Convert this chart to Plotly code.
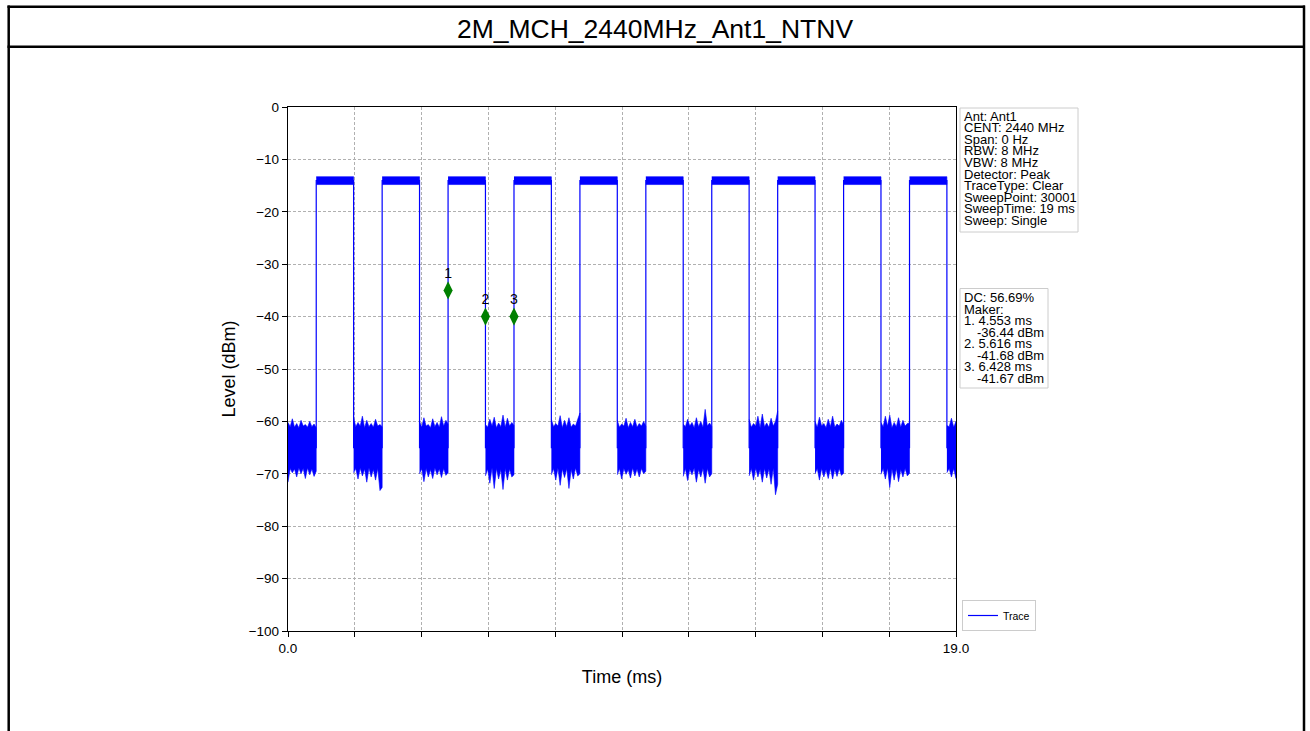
import numpy as np
import plotly.graph_objects as go

# ---------------- data ----------------
title_text = "2M_MCH_2440MHz_Ant1_NTNV"
rise_ms = [0.803, 2.678, 4.553, 6.428, 8.303, 10.178, 12.053, 13.928, 15.803, 17.678]
fall_ms = [1.866, 3.741, 5.616, 7.491, 9.366, 11.241, 13.116, 14.991, 16.866, 18.741]
high_top = -13.3
high_bottom = -14.8
low_level = -65.0
sweep_ms = 19.0

# noise envelope (upper / lower) of each low-level stretch, read left to right
noise_upper = [
    [-60.2, -61.0, -59.5, -61.1, -60.4, -61.2, -59.8, -60.9, -60.6, -61.1, -60.0, -61.0, -60.5, -61.2],
    [-59.3, -61.0, -60.2, -60.9, -59.0, -61.2, -59.8, -61.0, -60.4, -61.1, -59.6, -60.9, -60.6, -61.0],
    [-60.0, -61.1, -59.3, -60.9, -60.6, -61.2, -59.5, -61.0, -60.2, -61.1, -59.1, -60.9, -59.8, -60.5],
    [-60.6, -61.1, -59.6, -60.9, -59.2, -61.2, -60.3, -61.0, -58.8, -61.1, -59.4, -60.9, -60.2, -60.8],
    [-59.6, -61.0, -60.4, -60.9, -58.9, -61.2, -59.8, -61.0, -59.3, -61.1, -60.5, -60.9, -59.6, -58.4],
    [-59.8, -61.1, -60.5, -60.9, -59.4, -61.2, -60.2, -61.0, -59.6, -61.1, -60.4, -60.9, -60.0, -60.9],
    [-60.5, -61.0, -59.6, -60.9, -60.2, -61.2, -59.3, -61.0, -60.0, -61.1, -57.7, -60.9, -60.3, -61.0],
    [-59.6, -61.1, -60.4, -60.9, -59.0, -61.2, -58.6, -61.0, -60.3, -61.1, -59.4, -60.9, -60.0, -58.0],
    [-60.0, -61.1, -59.2, -60.9, -60.4, -61.2, -59.6, -61.0, -59.0, -61.1, -60.5, -60.9, -59.8, -60.7],
    [-60.2, -61.0, -59.0, -60.9, -58.8, -61.2, -60.2, -61.0, -59.3, -61.1, -59.8, -60.9, -60.4, -60.3],
    [-60.8, -61.0, -59.4, -61.1, -60.0],
]
noise_lower = [
    [-71.6, -69.0, -69.8, -69.1, -70.6, -68.9, -70.0, -69.0, -70.9, -68.9, -70.2, -69.1, -70.5, -69.5],
    [-69.8, -69.0, -71.0, -68.9, -70.4, -69.1, -71.6, -68.9, -70.6, -69.2, -71.2, -69.0, -73.2, -72.6],
    [-70.0, -69.0, -71.5, -69.0, -70.6, -69.2, -70.9, -68.9, -70.2, -69.1, -70.7, -69.0, -70.3, -69.8],
    [-70.4, -69.1, -71.8, -68.9, -72.8, -69.0, -71.0, -69.2, -73.0, -69.0, -71.2, -69.1, -70.6, -70.2],
    [-70.2, -69.0, -71.2, -68.9, -72.2, -69.1, -70.7, -69.0, -72.8, -69.2, -71.0, -68.9, -70.4, -70.0],
    [-70.2, -69.0, -71.0, -69.0, -70.1, -69.2, -70.8, -68.9, -70.4, -69.1, -70.6, -69.0, -70.0, -69.5],
    [-70.5, -69.0, -71.3, -69.1, -70.2, -68.9, -71.6, -69.2, -70.6, -69.0, -71.8, -69.0, -70.6, -70.0],
    [-70.4, -69.0, -71.2, -68.9, -70.6, -69.2, -71.6, -69.0, -70.8, -69.1, -72.0, -68.9, -74.0, -72.0],
    [-70.0, -69.0, -71.2, -69.0, -70.6, -69.2, -70.9, -68.9, -71.0, -69.1, -70.5, -69.0, -70.3, -69.9],
    [-70.1, -69.0, -71.0, -68.9, -72.6, -69.1, -71.2, -69.0, -71.5, -69.2, -70.6, -69.0, -70.4, -69.9],
    [-69.8, -69.0, -70.6, -69.0, -70.9],
]

marker_x = [4.553, 5.616, 6.428]
marker_y = [-35.0, -40.0, -40.0]
marker_labels = ["1", "2", "3"]

x_tick_vals = [0.0, 1.9, 3.8, 5.7, 7.6, 9.5, 11.4, 13.3, 15.2, 17.1, 19.0]
x_tick_text = ["0.0", "", "", "", "", "", "", "", "", "", "19.0"]
y_tick_vals = [0, -10, -20, -30, -40, -50, -60, -70, -80, -90, -100]
y_tick_text = ["0", "\u221210", "\u221220", "\u221230", "\u221240", "\u221250",
               "\u221260", "\u221270", "\u221280", "\u221290", "\u2212100"]

info_lines = ["Ant: Ant1", "CENT: 2440 MHz", "Span: 0 Hz", "RBW: 8 MHz", "VBW: 8 MHz",
              "Detector: Peak", "TraceType: Clear", "SweepPoint: 30001",
              "SweepTime: 19 ms", "Sweep: Single"]
marker_lines = ["DC: 56.69%", "Maker:", "1. 4.553 ms", "-36.44 dBm", "2. 5.616 ms",
                "-41.68 dBm", "3. 6.428 ms", "-41.67 dBm"]
marker_line_indent = [False, False, False, True, False, True, False, True]

# ---------------- layout geometry (pixels) ----------------
W, H = 1310, 731
PL, PR, PT, PB = 288, 956, 107, 631
FONT = "Liberation Sans, Arial, sans-serif"
BLUE = "#0000ff"


def px(xp):
    return (xp - PL) / (PR - PL)


def py(yp):
    return (PB - yp) / (PB - PT)


fig = go.Figure()

# low-level noise bands
low_starts = [0.0] + fall_ms
low_ends = rise_ms + [sweep_ms]
nx, ny = [], []
for s, e, up, lo in zip(low_starts, low_ends, noise_upper, noise_lower):
    xs = list(np.linspace(s, e, len(up)))
    nx += xs + xs[::-1] + [None]
    ny += up + lo[::-1] + [None]
fig.add_trace(go.Scatter(x=nx, y=ny, mode="lines", fill="toself", fillcolor=BLUE,
                         line=dict(color=BLUE, width=0.6), showlegend=False,
                         hoverinfo="skip"))

# high-level bands
hx, hy = [], []
for r, f in zip(rise_ms, fall_ms):
    hx += [r, f, f, r, None]
    hy += [high_top, high_top, high_bottom, high_bottom, None]
fig.add_trace(go.Scatter(x=hx, y=hy, mode="lines", fill="toself", fillcolor=BLUE,
                         line=dict(color=BLUE, width=0.6), showlegend=False,
                         hoverinfo="skip"))

# main trace (square wave)
tx, ty = [0.0], [low_level]
for r, f in zip(rise_ms, fall_ms):
    mid = (high_top + high_bottom) / 2
    tx += [r, r, f, f]
    ty += [low_level, mid, mid, low_level]
tx.append(sweep_ms)
ty.append(low_level)
fig.add_trace(go.Scatter(x=tx, y=ty, mode="lines", name="Trace",
                         line=dict(color=BLUE, width=1.2)))

# markers
fig.add_trace(go.Scatter(x=marker_x, y=marker_y, mode="markers+text", text=marker_labels,
                         textposition="top center",
                         textfont=dict(family=FONT, size=14, color="black"),
                         marker=dict(symbol="diamond-tall", size=13, color="#008000"),
                         showlegend=False))

shapes = []
# report frame
bw = 2.5
shapes.append(dict(type="line", xref="paper", yref="paper", x0=px(8.7), x1=px(8.7),
                   y0=py(5.5), y1=py(740), line=dict(color="black", width=bw)))
shapes.append(dict(type="line", xref="paper", yref="paper", x0=px(1304), x1=px(1304),
                   y0=py(5.5), y1=py(740), line=dict(color="black", width=bw)))
shapes.append(dict(type="line", xref="paper", yref="paper", x0=px(7.5), x1=px(1305),
                   y0=py(6.7), y1=py(6.7), line=dict(color="black", width=bw)))
shapes.append(dict(type="line", xref="paper", yref="paper", x0=px(7.5), x1=px(1305),
                   y0=py(46.7), y1=py(46.7), line=dict(color="black", width=bw)))
# info boxes
shapes.append(dict(type="rect", xref="paper", yref="paper", x0=px(960), x1=px(1078),
                   y0=py(232), y1=py(108), line=dict(color="#cccccc", width=1),
                   fillcolor="white"))
shapes.append(dict(type="rect", xref="paper", yref="paper", x0=px(960), x1=px(1048),
                   y0=py(388), y1=py(288.5), line=dict(color="#cccccc", width=1),
                   fillcolor="white"))

annotations = []
for i, t in enumerate(info_lines):
    annotations.append(dict(x=px(962.5), y=py(116 + 11.62 * i), xref="paper", yref="paper",
                            text=t, showarrow=False, xanchor="left", yanchor="middle",
                            font=dict(family=FONT, size=13, color="black")))
for i, (t, ind) in enumerate(zip(marker_lines, marker_line_indent)):
    annotations.append(dict(x=px(974.5 if ind else 962.5), y=py(297.5 + 11.5 * i),
                            xref="paper", yref="paper",
                            text=t, showarrow=False, xanchor="left", yanchor="middle",
                            font=dict(family=FONT, size=13, color="black")))

axis_common = dict(showline=True, linecolor="black", linewidth=1.4, mirror=True,
                   ticks="outside", ticklen=5, tickwidth=1.4, tickcolor="black",
                   showgrid=True, gridcolor="#b0b0b0", gridwidth=0.8, griddash="3px,2px",
                   zeroline=False, tickfont=dict(family=FONT, size=13.5, color="black"))

fig.update_layout(
    width=W, height=H,
    margin=dict(l=PL, r=W - PR, t=PT, b=H - PB, autoexpand=False),
    paper_bgcolor="white", plot_bgcolor="white",
    title=dict(text=title_text, x=0.5, xref="container", xanchor="center",
               y=1 - 28.5 / H, yref="container", yanchor="middle",
               font=dict(family=FONT, size=26.5, color="black")),
    xaxis=dict(range=[0, sweep_ms], tickmode="array", tickvals=x_tick_vals,
               ticktext=x_tick_text, automargin=False,
               title=dict(text="Time (ms)", standoff=14,
                          font=dict(family=FONT, size=18, color="black")),
               **axis_common),
    yaxis=dict(range=[-100, 0], tickmode="array", tickvals=y_tick_vals,
               ticktext=y_tick_text, automargin=False,
               title=dict(text="Level (dBm)", standoff=8,
                          font=dict(family=FONT, size=18, color="black")),
               **axis_common),
    legend=dict(x=px(962), y=0, xanchor="left", yanchor="bottom",
                bordercolor="#cccccc", borderwidth=1, bgcolor="white",
                font=dict(family=FONT, size=10.5, color="black")),
    shapes=shapes, annotations=annotations, showlegend=True,
)

fig.write_html("out.html", config={"displayModeBar": False},
               post_script="document.body.style.margin='0';document.body.style.padding='0';"
                           "document.body.style.overflow='hidden';")
